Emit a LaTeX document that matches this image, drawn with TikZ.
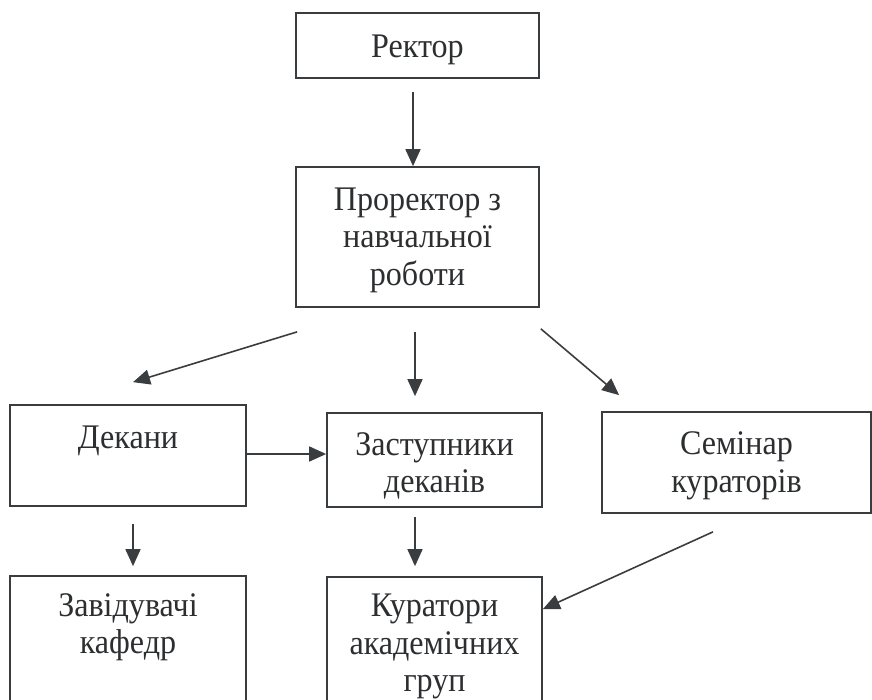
\documentclass[tikz,border=0pt]{standalone}
\usepackage{fontspec}
\setmainfont{Liberation Serif}
\newfontfamily\labfont[FakeStretch=0.93]{Liberation Serif}
\usetikzlibrary{arrows.meta}
\definecolor{ink}{HTML}{3A3D3F}
\definecolor{txt}{HTML}{2C2E30}
\begin{document}
\begin{tikzpicture}[x=1pt,y=-1pt,
  box/.style={draw=ink,line width=1.7pt,rectangle,inner sep=0pt},
  lbl/.style={text=txt,font=\labfont\fontsize{34.5}{37.5}\selectfont,align=center,inner sep=0pt},
  arr/.style={draw=ink,line width=1.6pt,-{Triangle[length=17pt,width=15pt]}}]
\useasboundingbox (0,0) rectangle (872,699);
\clip (0,0) rectangle (872,699);
% boxes
\node[box,minimum width=243pt,minimum height=65pt] (rek) at (417.5,45.5) {};
\node[box,minimum width=243pt,minimum height=140pt] (pro) at (417.5,237) {};
\node[box,minimum width=236pt,minimum height=101pt] (dek) at (128,455.5) {};
\node[box,minimum width=215pt,minimum height=94pt] (zas) at (434.5,460) {};
\node[box,minimum width=269pt,minimum height=101pt] (sem) at (736.5,462.5) {};
\node[box,minimum width=236pt,minimum height=144pt] (zav) at (128,648) {};
\node[box,minimum width=215pt,minimum height=143pt] (kur) at (434.5,648.5) {};
% labels
\node[lbl] (trek) at (417.5,50) {Ректор};
\node[lbl] (tpro) at (417.5,240) {Проректор з\\навчальної\\роботи};
\node[lbl] (tdek) at (128,441) {Декани};
\node[lbl] (tzas) at (434.5,466) {Заступники\\деканів};
\node[lbl] (tsem) at (736.5,466) {Семінар\\кураторів};
\node[lbl,anchor=north] (tzav) at (128,593) {Завідувачі\\кафедр};
\node[lbl,anchor=north] (tkur) at (434.5,594) {Куратори\\академічних\\груп};
% connectors
\draw[arr] ([xshift=-4.5pt,yshift=-13pt]rek.south) -- ([xshift=-4.5pt]pro.north);
\draw[arr] ([xshift=2pt,yshift=-24pt]pro.south west) -- ([xshift=5pt,yshift=22pt]dek.north);
\draw[arr] ([xshift=-2.5pt,yshift=-24pt]pro.south) -- ([xshift=-19.5pt,yshift=16pt]zas.north);
\draw[arr] ([xshift=1pt,yshift=-21pt]pro.south east) -- ([xshift=18pt,yshift=16pt]sem.north west);
\draw[arr] (dek.east |- 0,454) -- (zas.west |- 0,454);
\draw[arr] ([xshift=5pt,yshift=-17pt]dek.south) -- ([xshift=5pt,yshift=9pt]zav.north);
\draw[arr] ([xshift=-19.5pt,yshift=-9pt]zas.south) -- ([xshift=-19.5pt,yshift=10pt]kur.north);
\draw[arr] ([xshift=-23.5pt,yshift=-18pt]sem.south) -- ([yshift=-33pt]kur.north east);
\end{tikzpicture}
\end{document}
